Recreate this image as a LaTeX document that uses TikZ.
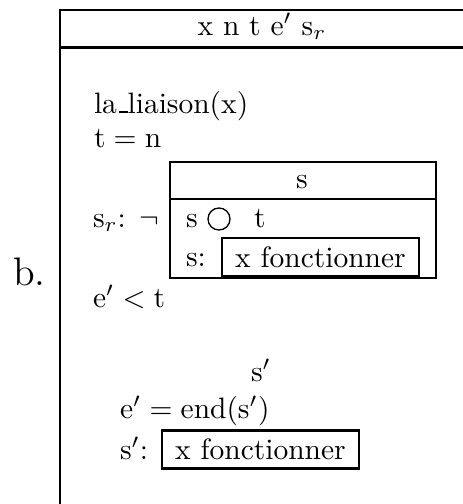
\documentclass[tikz,border=0pt]{standalone}
\begin{document}
\begin{tikzpicture}[x=0.339pt,y=-0.339pt, line width=0.7pt,
  txt/.style={inner sep=0pt, anchor=base west},
  ctxt/.style={inner sep=0pt, anchor=base},
  fbx/.style={draw, line width=0.8pt, inner sep=0pt, minimum width=197*0.339pt, minimum height=38*0.339pt}]
\useasboundingbox (0,0) rectangle (463,504);
% outer frame
\draw (463,10) -- (60,10) -- (60,504);
\draw (60,47.5) -- (463,47.5);
\node[ctxt] (hdr) at (262,35) {x n t e$'$ s$_r$};
\node[txt] (liai) at (93,113) {la\kern.06em\vbox{\hrule height 0.8pt width .3em}liaison(x)};
\node[txt] (teq) at (93,147) {$\mathrm{t}=\mathrm{n}$};
\node[txt] (sr) at (92,227) {s$_r$: $\neg$};
% inner box
\draw (170,162) rectangle (436,278);
\draw (170,199) -- (436,199);
\node[ctxt] (sh) at (302,188) {s};
\node[txt] (s1) at (185,227) {s};
\node[draw, circle, line width=0.45pt, inner sep=0pt, minimum size=22*0.339pt] (circ) at (219,219) {};
\node[txt] (t1) at (253,227) {t};
\node[txt] (s2) at (185,266) {s:};
\node[fbx] (f1) at (320.5,257) {x fonctionner};
\node[txt] (elt) at (92,307) {$\mathrm{e}'<\mathrm{t}$};
\node[ctxt] (sp) at (261,381) {s$'$};
\node[txt] (eend) at (119,418) {$\mathrm{e}'=\mathrm{end}(\mathrm{s}')$};
\node[txt] (s3) at (119,459) {s$'$:};
\node[fbx] (f2) at (260.5,449.5) {x fonctionner};
\node[inner sep=0pt, anchor=base west, font=\fontsize{13.5}{16}\selectfont] (b) at (12,285) {b.};
\end{tikzpicture}
\end{document}
